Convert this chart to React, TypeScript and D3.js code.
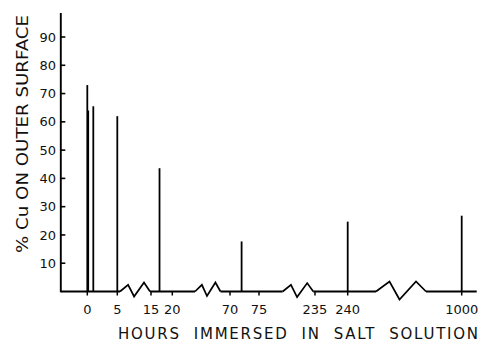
import React from "react";
import * as d3 from "d3";

// ---- data ----
const hours = [0, 0.15, 1, 5, 17, 72, 240, 1000];
const cuPct = [73, 64, 65.5, 62, 43.6, 17.7, 24.7, 26.8];
const xTicks = [0, 5, 15, 20, 70, 75, 235, 240, 1000];
const xTickLabels = ["0", "5", "15", "20", "70", "75", "235", "240", "1000"];
const yTicks = [10, 20, 30, 40, 50, 60, 70, 80, 90];
const xTitle = "HOURS  IMMERSED  IN  SALT  SOLUTION";
const yTitle = "% Cu ON OUTER SURFACE";

// ---- layout ----
const W = 481;
const H = 348;
const axisX = 60.8;
const axisTop = 13;
const axisRight = 476.7;
const xRange = [87.3, 117.3, 151, 172.3, 230, 259, 315, 347.7, 461.7];
// axis breaks (pixel start, end, amplitudes)
const breaks = [
  { x0: 120, x1: 150, amp: [-6.7, 5, -9] },
  { x0: 195, x1: 220.5, amp: [-6.7, 4.5, -9] },
  { x0: 282.7, x1: 313.3, amp: [-6.7, 5.6, -8.4] },
  { x0: 376, x1: 426, amp: [-10, 8, -10] },
];
const zigFrac = [0.27, 0.47, 0.8];
const FONT = "'DejaVu Sans', sans-serif";

export default function App() {
  const x = d3.scaleLinear().domain(xTicks).range(xRange);
  const y = d3.scaleLinear().domain([0, 90]).range([291.5, 37]);
  const y0 = y(0);

  // baseline segments between breaks
  const segs: [number, number][] = [];
  let start = axisX;
  breaks.forEach((b) => {
    segs.push([start, b.x0]);
    start = b.x1;
  });
  segs.push([start, axisRight]);

  const line = d3.line<[number, number]>();

  return (
    <svg
      width={W}
      height={H}
      style={{ position: "absolute", left: 0, top: 0, background: "#fff" }}
    >
      <rect width={W} height={H} fill="#fff" />
      {/* y axis */}
      <line x1={axisX} x2={axisX} y1={axisTop} y2={y0 + 0.8} stroke="#000" strokeWidth={1.9} />
      {yTicks.map((t) => (
        <g key={t}>
          <line x1={axisX} x2={axisX + 4.5} y1={y(t)} y2={y(t)} stroke="#000" strokeWidth={1.6} />
          <text
            x={56}
            y={y(t) + 4.6}
            textAnchor="end"
            fontFamily={FONT}
            fontSize={13}
            fill="#111"
          >
            {t}
          </text>
        </g>
      ))}
      {/* baseline */}
      {segs.map((s, i) => (
        <line key={i} x1={s[0]} x2={s[1]} y1={y0} y2={y0} stroke="#000" strokeWidth={1.9} />
      ))}
      {breaks.map((b, i) => {
        const w = b.x1 - b.x0;
        const pts: [number, number][] = [
          [b.x0, y0],
          ...zigFrac.map((f, j) => [b.x0 + f * w, y0 + b.amp[j]] as [number, number]),
          [b.x1, y0],
        ];
        return (
          <path
            key={i}
            d={line(pts) || ""}
            fill="none"
            stroke="#000"
            strokeWidth={1.7}
            strokeLinejoin="miter"
          />
        );
      })}
      {/* x ticks */}
      {xTicks.map((t, i) => (
        <g key={t}>
          <line x1={x(t)} x2={x(t)} y1={y0} y2={y0 + 4} stroke="#000" strokeWidth={1.5} />
          <text
            x={x(t)}
            y={313.5}
            textAnchor="middle"
            fontFamily={FONT}
            fontSize={13}
            fill="#111"
          >
            {xTickLabels[i]}
          </text>
        </g>
      ))}
      {/* bars */}
      {hours.map((h, i) => (
        <line
          key={i}
          x1={x(h)}
          x2={x(h)}
          y1={y0}
          y2={y(cuPct[i])}
          stroke="#000"
          strokeWidth={1.8}
        />
      ))}
      {/* titles */}
      <text
        x={118}
        y={339}
        fontFamily={FONT}
        fontSize={15}
        textLength={360}
        lengthAdjust="spacing"
        fill="#111"
        style={{ whiteSpace: "pre" }}
      >
        {xTitle}
      </text>
      <text
        transform="translate(27.5,134) rotate(-90)"
        textAnchor="middle"
        fontFamily={FONT}
        fontSize={16}
        textLength={238}
        lengthAdjust="spacingAndGlyphs"
        fill="#111"
      >
        {yTitle}
      </text>
    </svg>
  );
}
